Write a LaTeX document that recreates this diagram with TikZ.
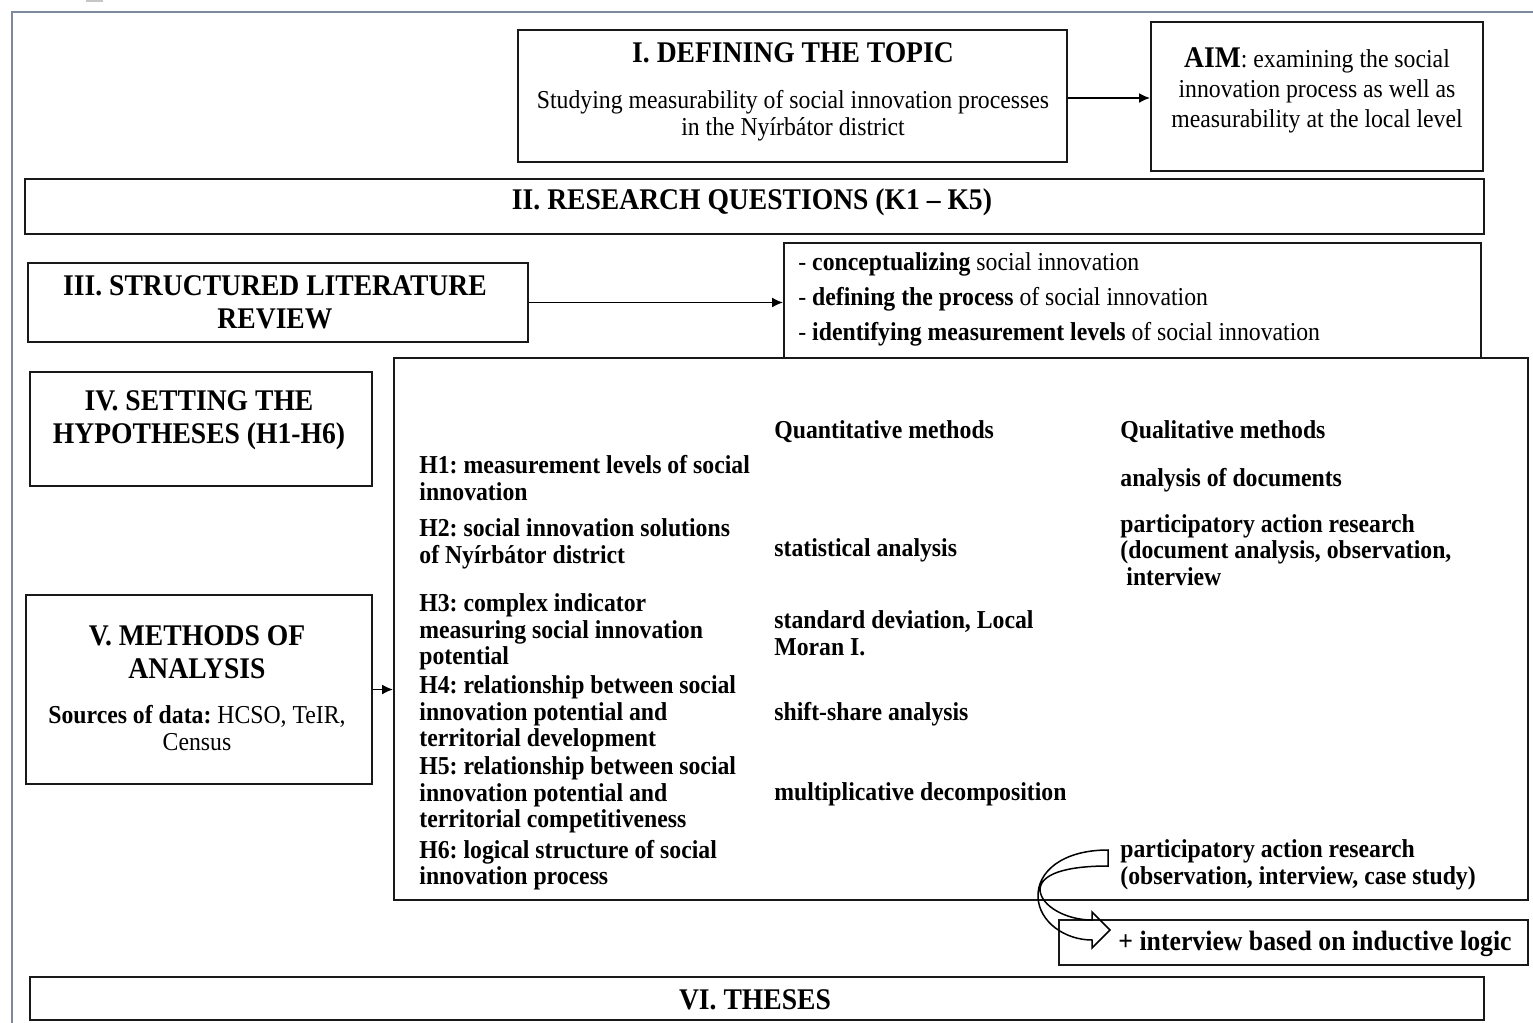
\documentclass[tikz,border=0pt]{standalone}
\usepackage{fontspec}
\setmainfont{Liberation Serif}[FakeStretch=0.92]
\usetikzlibrary{arrows.meta,fit}
\definecolor{framegray}{RGB}{125,138,158}
\frenchspacing
\tikzset{
  box/.style={draw=black!90, line width=0.9pt, inner sep=0pt},
  ttl/.style={font=\bfseries\fontsize{15}{16.5}\selectfont, align=center, inner sep=0pt},
  body/.style={font=\fontsize{12.9}{13.5}\selectfont, inner sep=0pt},
  bodyb/.style={font=\bfseries\fontsize{12.9}{13.25}\selectfont, align=left, anchor=west, inner sep=0pt},
  arr/.style={-{Latex[length=5.5pt,width=5pt]}, line width=0.95pt},
}
\begin{document}
\begin{tikzpicture}[x=0.5pt,y=-0.5pt]
\useasboundingbox (0,0) rectangle (1533,1023);
% outer frame
\fill[gray!45] (86,0) rectangle (103,2);
\draw[framegray, line width=1.1pt] (12,1023) -- (12,12) -- (1533,12);

% boxes
\node[box, fit={(518,30) (1067,162)}] (b1) {};
\node[box, fit={(1151,22) (1483,171)}] (aim) {};
\node[box, fit={(25,179) (1484,234)}] (b2) {};
\node[box, fit={(28,263) (528,342)}] (b3) {};
\node[box, fit={(784,243) (1481,358)}] (lit) {};
\node[box, fit={(394,358) (1528,900)}] (big) {};
\node[box, fit={(30,372) (372,486)}] (b4) {};
\node[box, fit={(26,595) (372,784)}] (b5) {};
\node[box, fit={(1059,920) (1528,965)}] (intv) {};
\node[box, fit={(30,977) (1484,1020)}] (b6) {};

% titles and texts
\node[ttl] (t1) at (793,53) {I. DEFINING THE TOPIC};
\node[body, align=center] (t1b) at (793,116) {Studying measurability of social innovation processes\\in the Nyírbátor district};
\node[body, align=center, font=\fontsize{12.9}{15}\selectfont] (taim) at (1317,90) {{\bfseries\fontsize{15}{15}\selectfont AIM}: examining the social\\innovation process as well as\\measurability at the local level};
\node[ttl] (t2) at (752,202) {II. RESEARCH QUESTIONS (K1 -- K5)};
\node[ttl] (t3) at (275,302) {III. STRUCTURED LITERATURE\\REVIEW};
\node[ttl] (t4) at (199,420) {IV. SETTING THE\\HYPOTHESES (H1-H6)};
\node[ttl] (t5) at (197,652) {V. METHODS OF\\ANALYSIS};
\node[body, align=center] (t5b) at (197,728) {\textbf{Sources of data:} HCSO, TeIR,\\Census};
\node[ttl] (t6) at (755,1000) {VI. THESES};

\node[body, align=left, anchor=west, font=\fontsize{12.9}{17.5}\selectfont] (tlit) at (798,299)
  {- \textbf{conceptualizing} social innovation\\- \textbf{defining the process} of social innovation\\- \textbf{identifying measurement levels} of social innovation};

% hypotheses
\node[bodyb] (h1) at (419,478) {H1: measurement levels of social\\innovation};
\node[bodyb] (h2) at (419,544) {H2: social innovation solutions\\of Nyírbátor district};
\node[bodyb] (h3) at (419,632) {H3: complex indicator\\measuring social innovation\\potential};
\node[bodyb] (h4) at (419,714) {H4: relationship between social\\innovation potential and\\territorial development};
\node[bodyb] (h5) at (419,795) {H5: relationship between social\\innovation potential and\\territorial competitiveness};
\node[bodyb] (h6) at (419,865) {H6: logical structure of social\\innovation process};

% quantitative
\node[bodyb] (qn0) at (774,432) {Quantitative methods};
\node[bodyb] (qn1) at (774,550) {statistical analysis};
\node[bodyb] (qn2) at (774,633) {standard deviation, Local\\Moran I.};
\node[bodyb] (qn3) at (774,714) {shift-share analysis};
\node[bodyb] (qn4) at (774,794) {multiplicative decomposition};

% qualitative
\node[bodyb] (ql0) at (1120,432) {Qualitative methods};
\node[bodyb] (ql1) at (1120,480) {analysis of documents};
\node[bodyb] (ql2) at (1120,550) {participatory action research\\(document analysis, observation,\\\hspace{3pt}interview};
\node[bodyb] (ql3) at (1120,865) {participatory action research\\(observation, interview, case study)};

\node[bodyb, font=\bfseries\fontsize{14}{15}\selectfont] (tintv) at (1118,944) {+ interview based on inductive logic};

% connectors
\draw[arr] (b1.east |- 0,98) -- (aim.west |- 0,98);
\draw[arr] (b3.east) -- (b3.east -| lit.west);
\draw[arr] (b5.east) -- (b5.east -| big.west);

% curved block arrow
\draw[line width=0.75pt] (1108,850) .. controls (1062,850) and (1037,872) .. (1038,897)
  .. controls (1039,922) and (1065,940) .. (1092,940) -- (1092,948) -- (1110,930) -- (1092,912) -- (1092,920)
  .. controls (1066,920) and (1041,906) .. (1040,890) .. controls (1040,874) and (1066,866) .. (1108,866) -- cycle;
\end{tikzpicture}
\end{document}
